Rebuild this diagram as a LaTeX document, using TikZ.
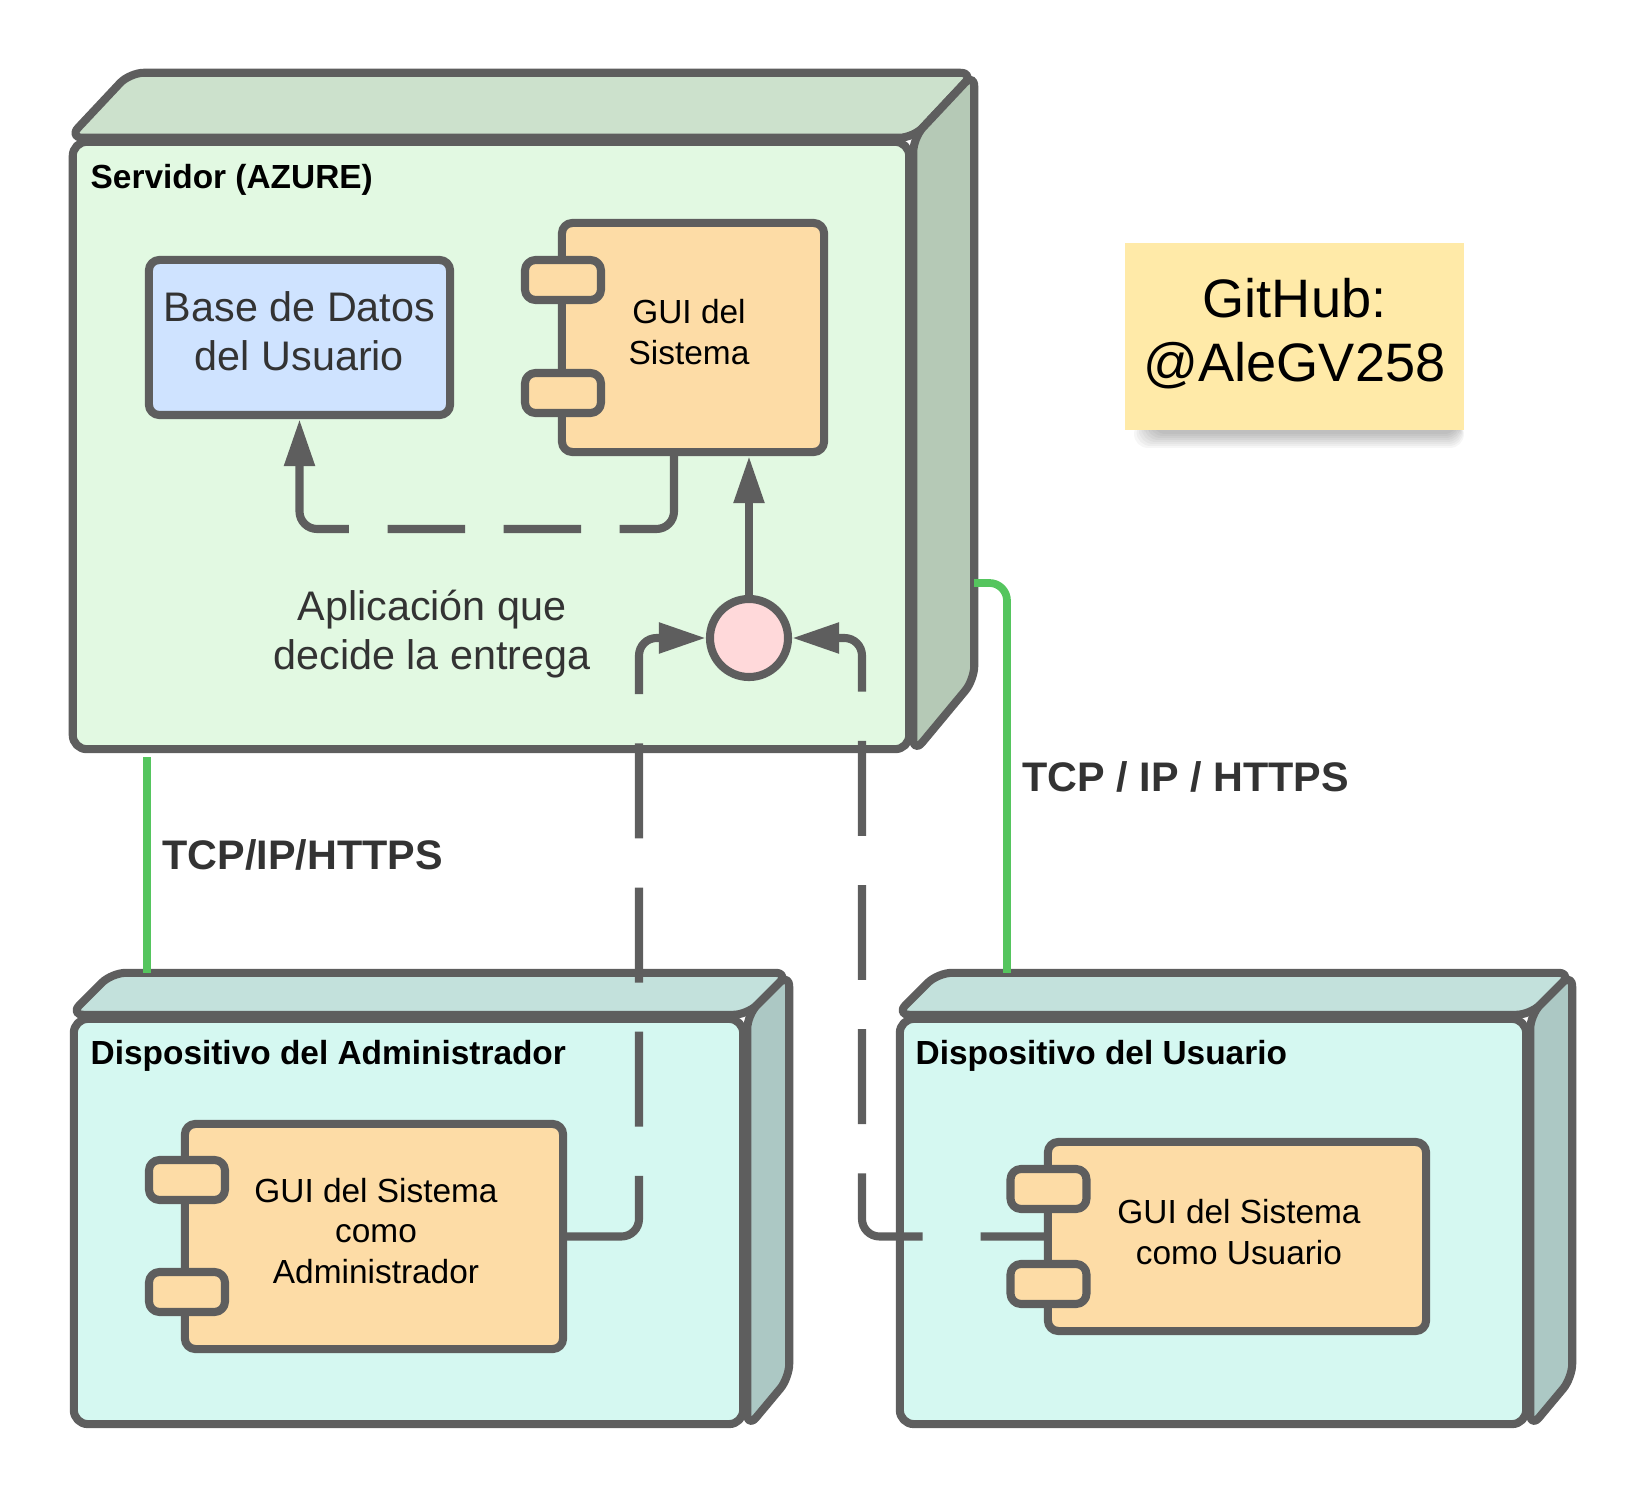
\documentclass[tikz,border=0pt]{standalone}
\usepackage{fontspec}
\setmainfont{Liberation Sans}
\usetikzlibrary{arrows.meta}

\definecolor{edgegray}{HTML}{5E5E5E}
\definecolor{srvfront}{HTML}{E2F9E2}
\definecolor{srvtop}{HTML}{CCE1CC}
\definecolor{srvside}{HTML}{B5C9B6}
\definecolor{devfront}{HTML}{D5F8F1}
\definecolor{devtop}{HTML}{C3E1DC}
\definecolor{devside}{HTML}{ACC8C4}
\definecolor{compfill}{HTML}{FDDCA6}
\definecolor{dbfill}{HTML}{CFE3FF}
\definecolor{pinkfill}{HTML}{FFD9DA}
\definecolor{notefill}{HTML}{FFEAA8}
\definecolor{netgreen}{HTML}{55C55E}
\definecolor{darktext}{HTML}{333333}

\begin{document}
\begin{tikzpicture}[x=0.01cm, y=-0.01cm,
    nodeface/.style={draw=edgegray, line width=2.3pt, rounded corners=4pt, line join=round, inner sep=0pt},
    compbox/.style={nodeface, fill=compfill, rounded corners=3pt},
    portbox/.style={nodeface, fill=compfill, rounded corners=3pt, minimum width=0.76cm, minimum height=0.4cm},
    comptext/.style={font=\fontsize{9.5}{11.5}\selectfont, align=center},
    titlelabel/.style={font=\bfseries\fontsize{9.5}{11.5}\selectfont, anchor=west, inner sep=0pt},
    bigtext/.style={font=\fontsize{11.75}{14}\selectfont, text=darktext, align=center},
    netlabel/.style={font=\bfseries\fontsize{11.75}{14}\selectfont, text=darktext, anchor=west, inner sep=0pt},
    flowline/.style={draw=edgegray, line width=2.3pt, rounded corners=5pt, -{Triangle[length=13.4pt,width=8.3pt]}},
    netline/.style={draw=netgreen, line width=2.2pt, rounded corners=5pt, shorten <=1.15pt, shorten >=1.15pt}
  ]
  \useasboundingbox (0,0) rectangle (1650,1500);

  % Servidor
  \node[nodeface, fill=srvfront, minimum width=8.36cm, minimum height=6.07cm] (srv) at (491,445.5) {};
  \draw[nodeface, fill=srvtop] (srv.north west) -- ++(61,-65) -- ([shift={(61,-65)}]srv.north east) -- (srv.north east) -- cycle;
  \draw[nodeface, fill=srvside] (srv.north east) -- ++(61,-65) -- ++(0,607) -- (srv.south east) -- cycle;
  \node[titlelabel] (srvname) at (90,180) {Servidor (AZURE)};

  % Base de datos
  \node[nodeface, fill=dbfill, rounded corners=3pt, minimum width=3.01cm, minimum height=1.55cm] (db) at (299.5,337.5) {};
  \node[bigtext] (dbtext) at (299.5,331) {Base de Datos\\del Usuario};

  % GUI del servidor
  \node[compbox, minimum width=2.62cm, minimum height=2.29cm] (gui) at (693,337.5) {};
  \node[portbox] (guiport1) at (563,280) {};
  \node[portbox] (guiport2) at (563,393) {};
  \node[comptext] (guitext) at (689,332) {GUI del\\Sistema};

  % Interfaz
  \node[circle, draw=edgegray, line width=2.3pt, fill=pinkfill, minimum size=0.78cm, inner sep=0pt] (iface) at (749,638) {};
  \node[bigtext] (app) at (432,634) {Aplicación que\\decide la entrega};

  % Dispositivo del administrador
  \node[nodeface, fill=devfront, minimum width=6.69cm, minimum height=4.05cm] (adm) at (408.5,1221.5) {};
  \draw[nodeface, fill=devtop] (adm.north west) -- ++(42,-42) -- ([shift={(42,-42)}]adm.north east) -- (adm.north east) -- cycle;
  \draw[nodeface, fill=devside] (adm.north east) -- ++(42,-42) -- ++(0,405) -- (adm.south east) -- cycle;
  \node[titlelabel] (admname) at (90,1056) {Dispositivo del Administrador};
  \node[compbox, minimum width=3.78cm, minimum height=2.25cm] (guiadm) at (374,1236.5) {};
  \node[portbox] (admport1) at (187,1180) {};
  \node[portbox] (admport2) at (187,1292) {};
  \node[comptext] (guiadmtext) at (376,1231) {GUI del Sistema\\como\\Administrador};

  % Dispositivo del usuario
  \node[nodeface, fill=devfront, minimum width=6.26cm, minimum height=4.05cm] (usr) at (1213,1221.5) {};
  \draw[nodeface, fill=devtop] (usr.north west) -- ++(42,-42) -- ([shift={(42,-42)}]usr.north east) -- (usr.north east) -- cycle;
  \draw[nodeface, fill=devside] (usr.north east) -- ++(42,-42) -- ++(0,405) -- (usr.south east) -- cycle;
  \node[titlelabel] (usrname) at (915,1056) {Dispositivo del Usuario};
  \node[compbox, minimum width=3.78cm, minimum height=1.89cm] (guiusr) at (1237,1236.5) {};
  \node[portbox] (usrport1) at (1048.5,1189) {};
  \node[portbox] (usrport2) at (1048.5,1284) {};
  \node[comptext] (guiusrtext) at (1239,1232) {GUI del Sistema\\como Usuario};

  % Nota (sombra suave)
  \foreach \s in {0,...,7}
    \fill[black, opacity=0.035, rounded corners=4pt] (1134+\s*2.5,420) rectangle (1464-\s*0.8,448-\s*2);
  \node[fill=notefill, minimum width=3.39cm, minimum height=1.87cm] (github) at (1294.5,336.5) {};
  \node[font=\fontsize{15.4}{18.2}\selectfont, align=center] (githubtext) at (1294.5,334) {GitHub:\\@AleGV258};

  % Conexiones internas
  \coordinate (dbbend) at (674,529);
  \draw[flowline, dash pattern=on 34pt off 11pt on 22pt off 11pt on 22pt off 11pt on 50pt] (gui.south -| dbbend) -- (dbbend) -| (db.south);
  \draw[flowline] (iface.north) -- (gui.south -| iface.north);

  \coordinate (admtap) at (639,638);
  \coordinate (usrtap) at (862,638);
  \draw[flowline, dash pattern=on 35.5pt off 14pt on 27pt off 14pt on 27pt off 14pt on 27pt off 14pt] (guiadm.east) -| (admtap) -- (iface.west);
  \draw[flowline, dash pattern=on 18pt off 16.5pt on 33pt off 14pt on 27pt off 14pt on 27pt off 14pt on 27pt off 14pt on 30pt] (guiusr.west) -| (usrtap) -- (iface.east);

  % Red
  \coordinate (admtop) at (147,977);
  \coordinate (usrtop) at (1007,977);
  \coordinate (srvback) at (970,583);
  \draw[netline] (srv.south -| admtop) -- (admtop);
  \draw[netline] (srvback) -| (usrtop);
  \node[netlabel] (tcpadm) at (162,855) {TCP/IP/HTTPS};
  \node[netlabel] (tcpusr) at (1022,777) {TCP / IP / HTTPS};
\end{tikzpicture}
\end{document}
